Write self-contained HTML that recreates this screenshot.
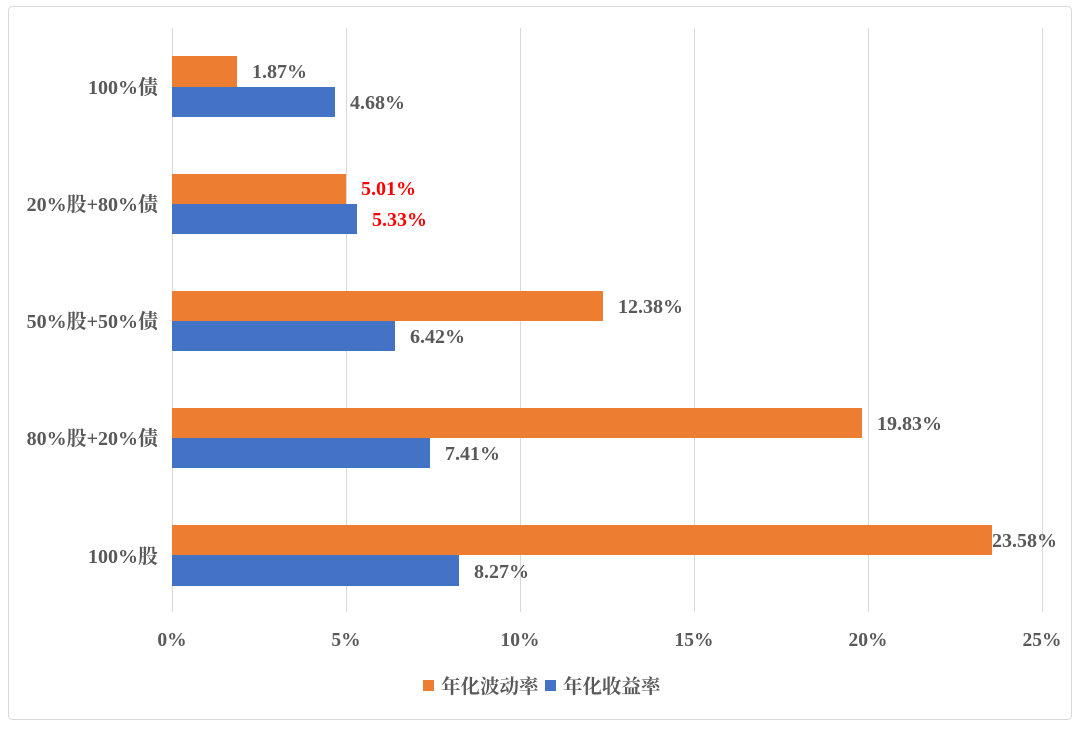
<!DOCTYPE html>
<html><head><meta charset="utf-8"><style>
body{margin:0;background:#fff;}
svg text{font-family:"Liberation Serif","Noto Serif CJK SC",serif;font-weight:bold;}
</style></head><body>
<svg width="1080" height="725" xmlns="http://www.w3.org/2000/svg">
<rect x="8.5" y="6.5" width="1063" height="713" rx="4" fill="#fff" stroke="#d9d9d9" stroke-width="1"/>
<g stroke="#d9d9d9" stroke-width="1">
<line x1="172.5" y1="28" x2="172.5" y2="612"/>
<line x1="346.5" y1="28" x2="346.5" y2="612"/>
<line x1="520.5" y1="28" x2="520.5" y2="612"/>
<line x1="694.5" y1="28" x2="694.5" y2="612"/>
<line x1="868.5" y1="28" x2="868.5" y2="612"/>
<line x1="1042.5" y1="28" x2="1042.5" y2="612"/>
</g>
<g>
<rect x="172" y="56" width="65" height="31" fill="#ed7d31"/>
<rect x="172" y="87" width="163" height="30" fill="#4472c4"/>
<rect x="172" y="174" width="174" height="30" fill="#ed7d31"/>
<rect x="172" y="204" width="185" height="30" fill="#4472c4"/>
<rect x="172" y="291" width="431" height="30" fill="#ed7d31"/>
<rect x="172" y="321" width="223" height="30" fill="#4472c4"/>
<rect x="172" y="408" width="690" height="30" fill="#ed7d31"/>
<rect x="172" y="438" width="258" height="30" fill="#4472c4"/>
<rect x="172" y="525" width="820" height="30" fill="#ed7d31"/>
<rect x="172" y="555" width="287" height="31" fill="#4472c4"/>
</g>
<g font-size="20" fill="#595959">
<text x="252" y="78">1.87%</text>
<text x="350" y="109">4.68%</text>
<text x="361" y="195" fill="#ff0000">5.01%</text>
<text x="372" y="226" fill="#ff0000">5.33%</text>
<text x="618" y="313">12.38%</text>
<text x="410" y="343">6.42%</text>
<text x="877" y="430">19.83%</text>
<text x="445" y="460">7.41%</text>
<text x="992" y="547">23.58%</text>
<text x="474" y="578">8.27%</text>
</g>
<g font-size="20" fill="#595959" text-anchor="end">
<text x="158" y="94">100%债</text>
<text x="158" y="211">20%股+80%债</text>
<text x="158" y="328">50%股+50%债</text>
<text x="158" y="445">80%股+20%债</text>
<text x="158" y="563">100%股</text>
</g>
<g font-size="19.5" fill="#595959" text-anchor="middle">
<text x="172" y="646">0%</text>
<text x="346" y="646">5%</text>
<text x="520" y="646">10%</text>
<text x="694" y="646">15%</text>
<text x="868" y="646">20%</text>
<text x="1042" y="646">25%</text>
</g>
<rect x="423" y="680" width="11" height="11" fill="#ed7d31"/>
<text x="441" y="693" font-size="19.5" fill="#595959">年化波动率</text>
<rect x="545" y="680" width="11" height="11" fill="#4472c4"/>
<text x="563" y="693" font-size="19.5" fill="#595959">年化收益率</text>
</svg>
</body></html>
